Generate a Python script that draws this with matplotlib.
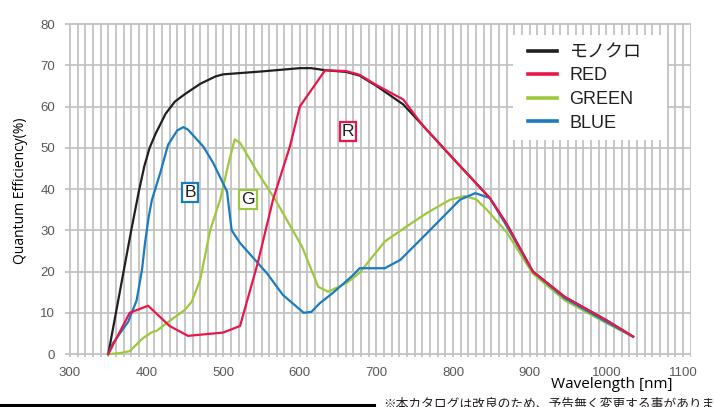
import matplotlib
matplotlib.use("Agg")
import matplotlib.pyplot as plt
from matplotlib.patches import Rectangle
import numpy as np

# spectral response
mono_nm = [350, 370, 380, 390, 397, 404, 412, 425, 437, 450, 470, 490, 500, 550, 600, 615, 633, 660, 678, 700, 735, 760,
           800, 820, 848, 870, 904, 946, 1000, 1035]
mono_qe = [0, 20, 30, 39.5, 45.5, 50, 53.5, 58.3, 61.2, 63, 65.5, 67.3, 67.8, 68.5, 69.3, 69.3, 68.8, 68.4, 67.5, 65, 60.5, 55.5,
           47.4, 43.4, 37.8, 31.5, 20, 13.8, 8.2, 4.2]

red_nm = [350, 378, 402, 430, 454, 500, 522, 545, 565, 587, 600, 633, 660, 678, 700, 735, 760,
          800, 820, 848, 870, 904, 946, 1000, 1035]
red_qe = [0, 10, 11.7, 6.8, 4.4, 5.2, 6.8, 22, 37.4, 50.3, 60, 68.8, 68.6, 67.7, 65.2, 61.7, 55.5,
          47.4, 43.4, 37.8, 31.5, 20, 13.8, 8.2, 4.2]

green_nm = [350, 365, 378, 395, 407, 413, 435, 450, 459, 470, 483, 496, 508, 515, 522, 545, 568, 603, 624, 637,
            661, 678, 711, 740, 766, 796, 815, 830, 844, 870, 904, 946, 1000, 1035]
green_qe = [0, 0.2, 0.7, 3.8, 5.3, 5.6, 8.7, 10.7, 12.7, 18, 30, 37.4, 47, 52, 51.2, 44, 37.4, 26, 16.3, 15.1,
            17.2, 19.7, 27.3, 31, 34.2, 37.4, 38.3, 37.5, 35, 29.5, 19.5, 13, 7.5, 4.2]

blue_nm = [350, 356, 376, 387, 394, 398, 403, 407, 418, 428, 440, 448, 454, 474, 487, 505, 511, 522, 557, 578,
           605, 615, 626, 643, 670, 678, 711, 731, 766, 809, 829, 848, 870, 904, 946, 1000, 1035]
blue_qe = [0, 2.6, 7.8, 13, 20.4, 27, 33.5, 37.4, 44, 50.7, 54.2, 55, 54.4, 50.3, 46.3, 39.4, 30, 26.9, 19.6, 14.3,
           10, 10.2, 12.3, 14.8, 19.2, 20.8, 20.8, 22.8, 29.3, 37.4, 39, 37.8, 31, 20, 13.5, 7.8, 4.2]

series = [
    ("モノクロ", mono_nm, mono_qe, "#231f20"),
    ("RED", red_nm, red_qe, "#e8174a"),
    ("GREEN", green_nm, green_qe, "#9cc93c"),
    ("BLUE", blue_nm, blue_qe, "#1a7bbf"),
]
draw_order = {"モノクロ": 2, "GREEN": 3, "BLUE": 4, "RED": 5}

plt.rcParams["font.family"] = ["Liberation Sans", "Noto Sans CJK JP", "DejaVu Sans"]

W, H = 714, 407
fig = plt.figure(figsize=(W / 100, H / 100), dpi=100)
ax = fig.add_axes([0.0910, 0.1221, 0.8773, 0.8209])

handles = {}
for name, xs, ys, col in series:
    (ln,) = ax.plot(xs, ys, color=col, lw=1.6, zorder=draw_order[name], solid_joinstyle="round")
    handles[name] = ln

ax.set_xlim(293.5, 1111)
ax.set_ylim(-0.8, 80.2)
ax.set_xticks(np.arange(300, 1101, 100))
ax.set_xticks(np.arange(300, 1111, 10), minor=True)
ax.set_yticks(np.arange(0, 81, 10))
ax.grid(which="both", axis="x", color="#c3c3c3", lw=1.3, zorder=0)
ax.grid(which="major", axis="y", color="#c3c3c3", lw=1.3, zorder=0)
ax.set_axisbelow(True)
for s in ax.spines.values():
    s.set_visible(False)
ax.tick_params(which="both", length=0, labelsize=9.5, labelcolor="#595959", pad=7)

ax.set_ylabel("Quantum Efficiency(%)", family=["Open Sans", "DejaVu Sans"], fontsize=10, labelpad=9)
fig.text(612 / W, 1 - 385 / H, "Wavelength [nm]", family=["Open Sans", "DejaVu Sans"],
         fontsize=11, ha="center", va="center")

# white panel behind the legend
ax.add_patch(Rectangle((513 / W, 1 - 140 / H), 154 / W, 105 / H, transform=fig.transFigure,
                       fc="white", ec="none", zorder=7))
leg = ax.legend([handles[n] for n, *_ in series], [n for n, *_ in series],
                loc="upper left", bbox_to_anchor=(528 / W, 1 - 44 / H), bbox_transform=fig.transFigure,
                frameon=False, fontsize=13, handlelength=1.6, handletextpad=0.7,
                labelspacing=0.36, borderpad=0, borderaxespad=0)
leg.set_zorder(8)
for t in leg.get_texts():
    t.set_color("#231f20")
for h in leg.get_lines():
    h.set_linewidth(2.6)

# channel markers
for label, x, y, col in [("R", 663, 53.9, "#e8174a"), ("B", 456.7, 39.2, "#1a7bbf"), ("G", 532, 37.4, "#9cc93c")]:
    ax.text(x, y, label, fontsize=12.5, ha="center", va="center", color="#231f20", zorder=6,
            bbox=dict(boxstyle="square,pad=0.12", fc="white", ec=col, lw=1.6))

# footnote strip at the bottom edge
fig.add_artist(plt.Line2D([0, 374 / W], [1 - 405 / H] * 2, color="black", lw=2.2))
fig.text(383 / W, 1 - 398 / H, "※本カタログは改良のため、予告無く変更する事があります。",
         family=["Noto Sans CJK JP", "DejaVu Sans"], fontsize=9.2, ha="left", va="top", color="#231f20")

fig.savefig("out.png", dpi=100)
